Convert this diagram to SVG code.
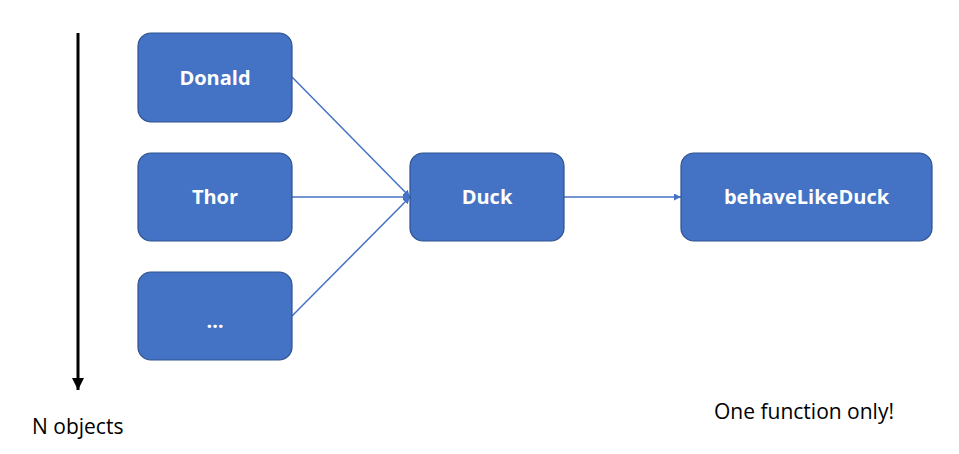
<svg xmlns="http://www.w3.org/2000/svg" width="959" height="454" viewBox="0 0 959 454">
<style>
.box{fill:#4472C4;stroke:#2F528F;stroke-width:1.2}
.lbl{font-family:"Open Sans","Noto Sans",sans-serif;font-weight:bold;font-size:20px;fill:#fff;text-anchor:middle}
.txt{font-family:"Open Sans","Noto Sans",sans-serif;font-size:21px;fill:#000}
.con{stroke:#4472C4;stroke-width:1.5;fill:none;marker-end:url(#ah)}
</style>
<defs>
<marker id="ah" viewBox="0 0 10 10" refX="10" refY="5" markerWidth="7" markerHeight="7" markerUnits="userSpaceOnUse" orient="auto">
<path d="M0,0 L10,5 L0,10 z" fill="#4472C4"/>
</marker>
<marker id="bh" viewBox="0 0 10 10" refX="10" refY="5" markerWidth="4" markerHeight="4" orient="auto">
<path d="M0,0 L10,5 L0,10 z" fill="#000"/>
</marker>
</defs>
<rect width="959" height="454" fill="#fff"/>
<g id="axis">
<line x1="78" y1="33" x2="78" y2="390" stroke="#000" stroke-width="3" marker-end="url(#bh)"/>
<text class="txt" x="32" y="434">N objects</text>
</g>
<g id="connectors">
<line class="con" x1="292" y1="77" x2="410" y2="197"/>
<line class="con" x1="292" y1="197" x2="410" y2="197"/>
<line class="con" x1="292" y1="316" x2="410" y2="197"/>
<line class="con" x1="564" y1="197" x2="681" y2="197"/>
</g>
<g id="donald"><rect class="box" x="138" y="33" width="154" height="89" rx="13"/><text class="lbl" x="215" y="85">Donald</text></g>
<g id="thor"><rect class="box" x="138" y="153" width="154" height="88" rx="13"/><text class="lbl" x="215" y="204">Thor</text></g>
<g id="more"><rect class="box" x="138" y="272" width="154" height="88" rx="13"/><text class="lbl" x="215" y="328">…</text></g>
<g id="duck"><rect class="box" x="410" y="153" width="154" height="88" rx="13"/><text class="lbl" x="487" y="204">Duck</text></g>
<g id="behave"><rect class="box" x="681" y="153" width="251" height="88" rx="13"/><text class="lbl" x="806.5" y="204">behaveLikeDuck</text></g>
<g id="note"><text class="txt" x="714" y="419">One function only!</text></g>
</svg>
